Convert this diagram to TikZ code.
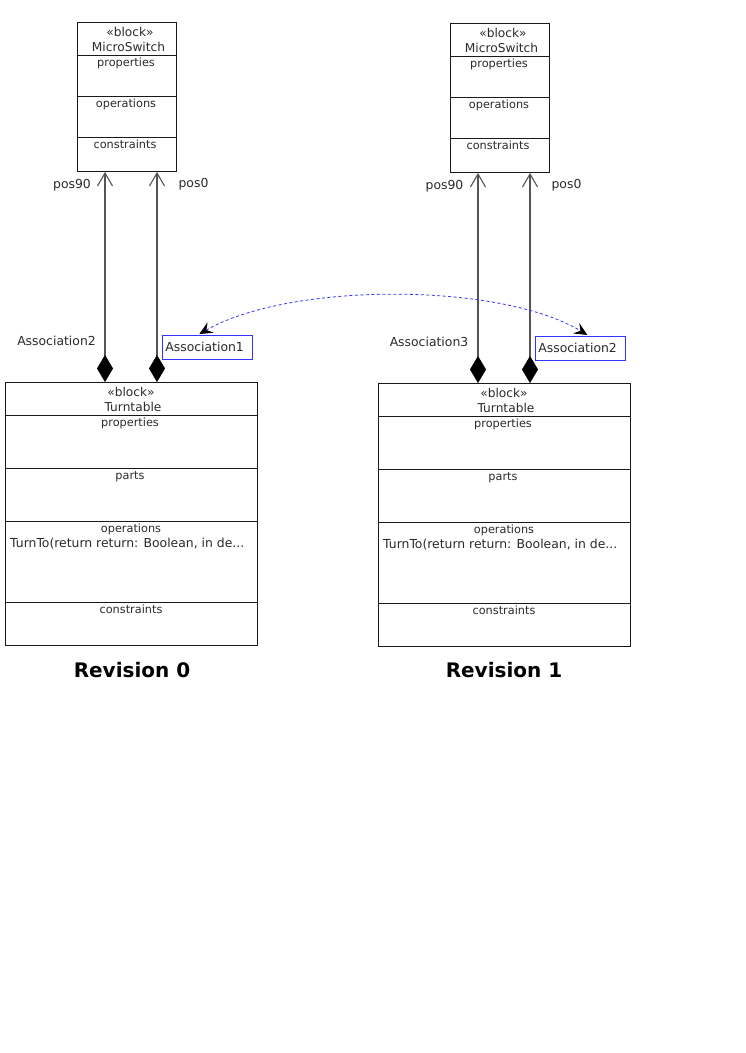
\documentclass[tikz,border=0pt]{standalone}
\usepackage{fontspec}
\setmainfont{DejaVu Sans}
\usetikzlibrary{arrows.meta}
\definecolor{ink}{HTML}{2A2A2A}
\definecolor{wire}{HTML}{555555}
\definecolor{linkblue}{HTML}{3333FF}
\begin{document}
\begin{tikzpicture}[x=1pt,y=-1pt,
  blockbox/.style={draw=black!90,line width=0.9pt,rectangle,inner sep=0pt,anchor=north west},
  smallblock/.style={blockbox,minimum width=99pt,minimum height=149pt},
  bigblock/.style={blockbox,minimum width=252pt,minimum height=263pt},
  divider/.style={draw=black!90,line width=0.9pt},
  headtxt/.style={anchor=base,inner sep=0pt,text=ink,font=\fontsize{12.2}{14}\selectfont},
  comptxt/.style={anchor=base,inner sep=0pt,text=ink,font=\fontsize{11.3}{13}\selectfont},
  optxt/.style={anchor=base west,inner sep=0pt,text=ink,font=\fontsize{12.4}{14}\selectfont},
  roletxt/.style={anchor=base,inner sep=0pt,text=ink,font=\fontsize{12.4}{14}\selectfont},
  assocbox/.style={draw=linkblue,line width=0.7pt,rectangle,anchor=north west,
    minimum width=90pt,minimum height=24pt,inner sep=3pt,text=ink,
    font=\fontsize{12.4}{14}\selectfont,align=left,text width=84pt},
  composite/.style={draw=wire,line width=1.4pt,
    {Diamond[length=27pt,width=16pt,fill=black,line width=0.5pt,color=black]}-{Straight Barb[length=13pt,width=15pt,line width=1.1pt]}},
  tracelink/.style={draw=linkblue,line width=0.8pt,dash pattern=on 3pt off 2.5pt,
    {Stealth[length=13pt,width=12pt,inset=5pt,black]}-{Stealth[length=13pt,width=12pt,inset=5pt,black]}},
  revtxt/.style={anchor=base,inner sep=0pt,text=black,font=\fontsize{20}{24}\selectfont\bfseries}
]
\useasboundingbox (0,0) rectangle (745,1053);

% ---------- Revision 0 ----------
\node[smallblock] (ms0) at (77,22) {};
\draw[divider] ([yshift=-33pt]ms0.north west) -- ([yshift=-33pt]ms0.north east);
\draw[divider] ([yshift=-74pt]ms0.north west) -- ([yshift=-74pt]ms0.north east);
\draw[divider] ([yshift=-115pt]ms0.north west) -- ([yshift=-115pt]ms0.north east);
\node[headtxt] (ms0st) at (130,36) {«block»};
\node[headtxt] (ms0nm) at (128.5,51) {MicroSwitch};
\node[comptxt] (ms0pr) at (126,66) {properties};
\node[comptxt] (ms0op) at (126,107) {operations};
\node[comptxt] (ms0cn) at (125,148) {constraints};

\node[bigblock] (tt0) at (5,382) {};
\draw[divider] ([yshift=-33pt]tt0.north west) -- ([yshift=-33pt]tt0.north east);
\draw[divider] ([yshift=-86pt]tt0.north west) -- ([yshift=-86pt]tt0.north east);
\draw[divider] ([yshift=-139pt]tt0.north west) -- ([yshift=-139pt]tt0.north east);
\draw[divider] ([yshift=-220pt]tt0.north west) -- ([yshift=-220pt]tt0.north east);
\node[headtxt] (tt0st) at (131,396) {«block»};
\node[headtxt] (tt0nm) at (133,411) {Turntable};
\node[comptxt] (tt0pr) at (130,426) {properties};
\node[comptxt] (tt0pa) at (130,479) {parts};
\node[comptxt] (tt0op) at (131,532) {operations};
\node[optxt] (tt0fn) at (10,547) {TurnTo(return return: Boolean, in de...};
\node[comptxt] (tt0cn) at (131,613) {constraints};

\draw[composite] ([xshift=100pt]tt0.north west) -- ([xshift=28pt]ms0.south west);
\draw[composite] ([xshift=152pt]tt0.north west) -- ([xshift=80pt]ms0.south west);
\node[roletxt] (r0a) at (72,188) {pos90};
\node[roletxt] (r0b) at (193.5,187) {pos0};
\node[roletxt] (r0c) at (56.5,345) {Association2};
\node[assocbox] (as1) at (162,335) {Association1};

\node[revtxt] (rev0) at (132,677) {Revision 0};

% ---------- Revision 1 ----------
\node[smallblock] (ms1) at (450,23) {};
\draw[divider] ([yshift=-33pt]ms1.north west) -- ([yshift=-33pt]ms1.north east);
\draw[divider] ([yshift=-74pt]ms1.north west) -- ([yshift=-74pt]ms1.north east);
\draw[divider] ([yshift=-115pt]ms1.north west) -- ([yshift=-115pt]ms1.north east);
\node[headtxt] (ms1st) at (503,37) {«block»};
\node[headtxt] (ms1nm) at (501.5,52) {MicroSwitch};
\node[comptxt] (ms1pr) at (499,67) {properties};
\node[comptxt] (ms1op) at (499,108) {operations};
\node[comptxt] (ms1cn) at (498,149) {constraints};

\node[bigblock] (tt1) at (378,383) {};
\draw[divider] ([yshift=-33pt]tt1.north west) -- ([yshift=-33pt]tt1.north east);
\draw[divider] ([yshift=-86pt]tt1.north west) -- ([yshift=-86pt]tt1.north east);
\draw[divider] ([yshift=-139pt]tt1.north west) -- ([yshift=-139pt]tt1.north east);
\draw[divider] ([yshift=-220pt]tt1.north west) -- ([yshift=-220pt]tt1.north east);
\node[headtxt] (tt1st) at (504,397) {«block»};
\node[headtxt] (tt1nm) at (506,412) {Turntable};
\node[comptxt] (tt1pr) at (503,427) {properties};
\node[comptxt] (tt1pa) at (503,480) {parts};
\node[comptxt] (tt1op) at (504,533) {operations};
\node[optxt] (tt1fn) at (383,548) {TurnTo(return return: Boolean, in de...};
\node[comptxt] (tt1cn) at (504,614) {constraints};

\draw[composite] ([xshift=100pt]tt1.north west) -- ([xshift=28pt]ms1.south west);
\draw[composite] ([xshift=152pt]tt1.north west) -- ([xshift=80pt]ms1.south west);
\node[roletxt] (r1a) at (444.5,189) {pos90};
\node[roletxt] (r1b) at (566.5,188) {pos0};
\node[roletxt] (r1c) at (429,346) {Association3};
\node[assocbox] (as2) at (535,336) {Association2};

\node[revtxt] (rev1) at (504,677) {Revision 1};

% ---------- trace between the two association versions ----------
\draw[tracelink] ([xshift=-8pt,yshift=1pt]as1.north) .. controls (290,282) and (500,282) .. ([xshift=7pt,yshift=1pt]as2.north);
\end{tikzpicture}
\end{document}
